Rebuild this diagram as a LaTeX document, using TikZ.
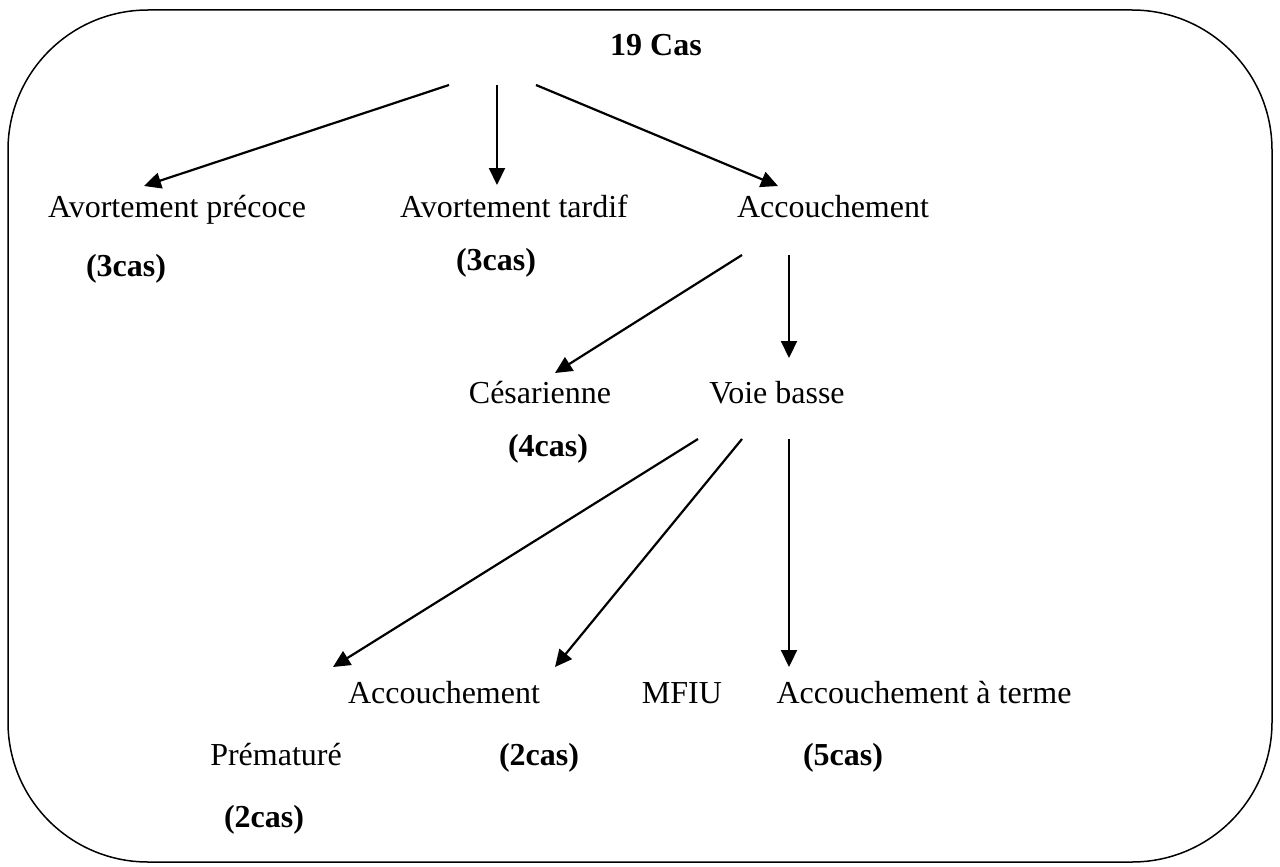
\documentclass[tikz,border=0pt]{standalone}
\usepackage{fontspec}
\setmainfont{Liberation Serif}
\usetikzlibrary{arrows.meta}

\begin{document}
\begin{tikzpicture}[x=1pt, y=-1pt, >={Triangle[length=17pt,width=16pt]}, line width=2.2pt,
  every node/.style={font=\fontsize{32}{38}\selectfont, inner sep=0pt, anchor=base},
  count node/.style={font=\fontsize{32}{38}\selectfont\bfseries}]
\useasboundingbox (0,0) rectangle (1280,867);
\draw [line width=1.5pt, rounded corners=140pt] (8,10) rectangle (1272,862);

% labels
\node [count node](total) at (656,56) {19 Cas};
\node (precoce) at (177,217) {Avortement précoce};
\node (tardif) at (514,217) {Avortement tardif};
\node (accouch) at (833,217) {Accouchement};
\node [count node](n1) at (126,276) {(3cas)};
\node [count node](n2) at (496,270) {(3cas)};
\node (cesar) at (540,403) {Césarienne};
\node (voie) at (777,403) {Voie basse};
\node [count node](n3) at (548,456) {(4cas)};
\node (accprem) at (444,703) {Accouchement};
\node (mfiu) at (682,703) {MFIU};
\node (terme) at (924,703) {Accouchement à terme};
\node (prem) at (276,765) {Prématuré};
\node [count node](n4) at (539,765) {(2cas)};
\node [count node](n5) at (843,765) {(5cas)};
\node [count node](n6) at (264,827) {(2cas)};

% arrow ends
\coordinate (t1) at (449,85);   \coordinate (h1) at (144,186);
\coordinate (t2) at (497,85);   \coordinate (h2) at (497,185);
\coordinate (t3) at (536,85);   \coordinate (h3) at (778,186);
\coordinate (t4) at (742,255);  \coordinate (h4) at (555,373);
\coordinate (t5) at (789,255);  \coordinate (h5) at (789,358);
\coordinate (t6) at (698,439);  \coordinate (h6) at (333,667);
\coordinate (t7) at (742,439);  \coordinate (h7) at (555,667);
\coordinate (t8) at (789,439);  \coordinate (h8) at (789,667);

\draw [->] (t1) -- (h1);
\draw [->] (t2) -- (h2);
\draw [->] (t3) -- (h3);
\draw [->] (t4) -- (h4);
\draw [->] (t5) -- (h5);
\draw [->] (t6) -- (h6);
\draw [->] (t7) -- (h7);
\draw [->] (t8) -- (h8);
\end{tikzpicture}
\end{document}
